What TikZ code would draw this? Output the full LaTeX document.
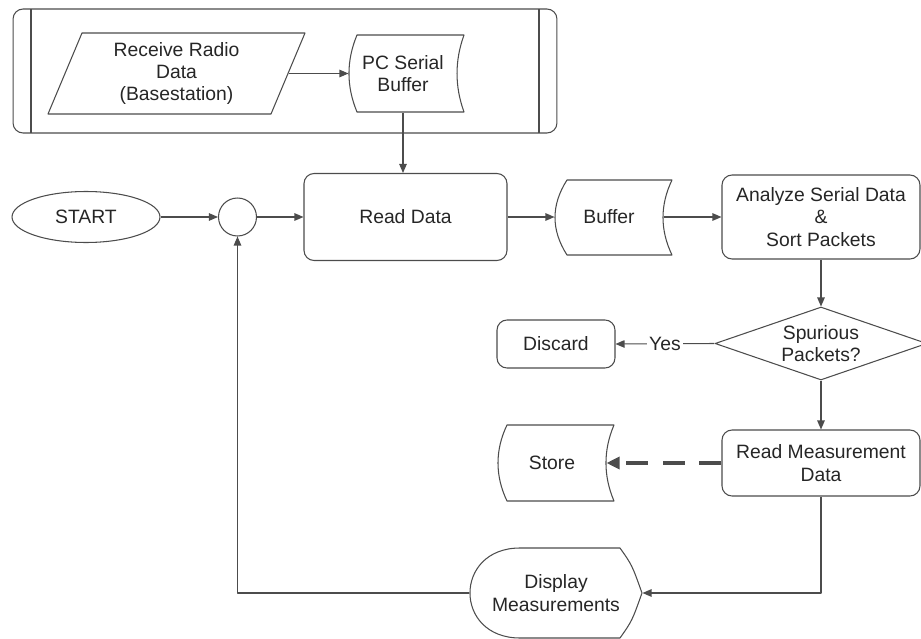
\documentclass[tikz,border=0pt]{standalone}
\usepackage{fontspec}
\setmainfont{Liberation Sans}
\usepackage{tikz}
\usetikzlibrary{arrows.meta,shapes.geometric}

\begin{document}
\begin{tikzpicture}[x=0.02cm,y=-0.02cm,>={Triangle[length=1.8mm,width=1.5mm]},line join=round,color=black!70,line width=0.6pt,
  every node/.style={font=\fontsize{11}{12.8}\selectfont,text=black!85,align=center},
  box/.style={draw,rounded corners=0.2cm,inner sep=2pt}]
\clip (0,0) rectangle (921,639);
% basestation lane
\node[draw,rounded corners=0.2cm,minimum width=10.88cm,minimum height=2.48cm] (lane) at (285,71) {};
\draw (31,9) -- (31,133) (539,9) -- (539,133);
\draw (82,33) -- (305,33) -- (271,114) -- (48,114) -- cycle;
\node[minimum width=4.46cm] (radio) at (176.5,73.5) {Receive Radio\\Data\\(Basestation)};
\draw (357,35) -- (464,35) .. controls (454.7,60.7) and (454.7,86.3) .. (464,112) -- (357,112) .. controls (346.3,86.3) and (346.3,60.7) .. (357,35) -- cycle;
\node[minimum width=2.16cm,minimum height=1.54cm] (pcbuf) at (403,73.5) {PC Serial\\Buffer};
\draw[->] (radio.east) -- (pcbuf.west);
% main row
\node[ellipse,draw,minimum width=2.96cm,minimum height=1.02cm,inner sep=0pt] (start) at (86,217) {START};
\node[circle,draw,minimum size=0.76cm,inner sep=0pt] (join) at (237.5,217) {};
\node[box,minimum width=4.06cm,minimum height=1.74cm] (read) at (405.5,217) {Read Data};
\draw (567,180) -- (672,180) .. controls (660,205) and (660,230) .. (672,255) -- (567,255) .. controls (551,230) and (551,205) .. (567,180) -- cycle;
\node[minimum width=2.16cm,minimum height=1.5cm] (buf) at (609,217) {Buffer};
\node[box,minimum width=3.96cm,minimum height=1.68cm] (analyze) at (821,217) {Analyze Serial Data\\\&\\Sort Packets};
\draw[->] (pcbuf.south) -- (pcbuf.south |- read.north);
\draw[->] (start) -- (join);
\draw[->] (join) -- (read);
\draw[->] (read) -- (buf.west);
\draw[->] (buf.east) -- (analyze);
% packet check
\node[diamond,draw,minimum width=4.24cm,minimum height=1.46cm,aspect=2.9,inner sep=0pt] (spur) at (821,343.5) {Spurious\\Packets?};
\node[box,minimum width=2.36cm,minimum height=0.96cm] (discard) at (556,344) {Discard};
\draw[->] (analyze) -- (spur);
\draw[->] (spur.west) -- node[fill=white,inner sep=1pt] {Yes} (discard.east);
% measurements
\node[box,minimum width=3.96cm,minimum height=1.32cm] (meas) at (821,463) {Read Measurement\\Data};
\draw (507,425) -- (614,425) .. controls (603.3,450) and (603.3,476) .. (614,501) -- (507,501) .. controls (495,476) and (495,450) .. (507,425) -- cycle;
\node[minimum width=2.16cm,minimum height=1.52cm] (store) at (552,463) {Store};
\draw[->] (spur) -- (meas);
\draw[->,line width=1.8pt,dash pattern=on 0.44cm off 0.3cm,>={Triangle[length=2.6mm,width=2.4mm]}] (meas.west) -- (store.east);
\draw (520,548) -- (620,548) .. controls (632,565) .. (642,593) .. controls (632,621) .. (620,638) -- (520,638) .. controls (453.3,638) and (453.3,548) .. (520,548) -- cycle;
\node[minimum width=3.44cm,minimum height=1.8cm] (disp) at (556,593) {Display\\Measurements};
\draw[->] (meas.south) |- (disp.east);
\draw[->] (disp.west) -| (join.south);
\end{tikzpicture}
\end{document}
